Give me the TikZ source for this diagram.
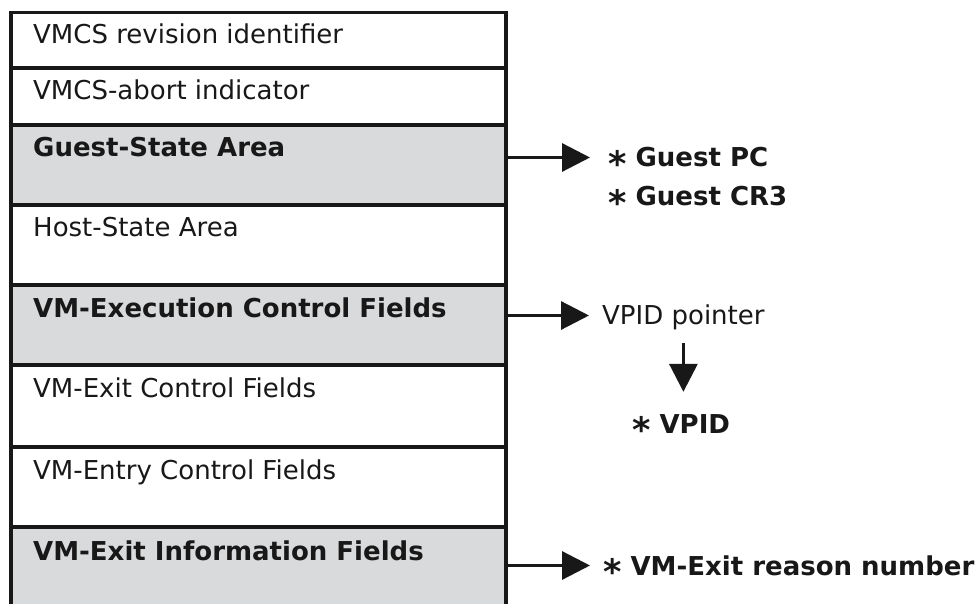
\documentclass[tikz,border=0pt]{standalone}
\usepackage{graphicx}
\usepackage{fontspec}
\setmainfont{DejaVu Sans}
\usetikzlibrary{arrows.meta}

\definecolor{fieldgray}{RGB}{217,218,220}
\definecolor{ink}{RGB}{24,24,24}

% enlarged asterisk set at the middle of the capitals
\newcommand{\lowstar}{\raisebox{-0.36em}{\scalebox{1.35}{*}}}

\tikzset{
  rowbox/.style={rectangle, draw=ink, line width=3.5pt, inner sep=0pt, outer sep=0pt,
                 minimum width=495pt, anchor=north west},
  plainrow/.style={rowbox, fill=white},
  greyrow/.style={rowbox, fill=fieldgray},
  rowtext/.style={anchor=base west, inner sep=0pt, text=ink,
                  font=\fontsize{26}{30}\selectfont},
  rowbold/.style={rowtext, font=\fontsize{26}{30}\selectfont\bfseries},
  note/.style={anchor=base west, inner sep=0pt, text height=19pt, text depth=0pt,
               text=ink, font=\fontsize{26}{30}\selectfont},
  notebold/.style={note, font=\fontsize{26}{30}\selectfont\bfseries},
  pointer/.style={draw=ink, line width=3.2pt, -{Triangle[length=28pt,width=28pt]}},
}

\begin{document}
\begin{tikzpicture}[x=1pt, y=-1pt]
  \clip (0,0) rectangle (978,604);
  \fill[white] (0,0) rectangle (978,604);

  % VMCS layout, one box per region
  \node[plainrow, minimum height=55.5pt] (r1) at (11,12.5) {};
  \node[plainrow, minimum height=57pt]   (r2) at (11,68)   {};
  \node[greyrow,  minimum height=80pt]   (r3) at (11,125)  {};
  \node[plainrow, minimum height=80pt]   (r4) at (11,205)  {};
  \node[greyrow,  minimum height=80pt]   (r5) at (11,285)  {};
  \node[plainrow, minimum height=82pt]   (r6) at (11,365)  {};
  \node[plainrow, minimum height=80pt]   (r7) at (11,447)  {};
  \node[greyrow,  minimum height=100pt]  (r8) at (11,527)  {};

  % region names
  \node[rowtext] (t1) at ([xshift=22pt,yshift=-31pt]r1.north west) {VMCS revision identifier};
  \node[rowtext] (t2) at ([xshift=22pt,yshift=-32pt]r2.north west) {VMCS-abort indicator};
  \node[rowbold] (t3) at ([xshift=22pt,yshift=-32pt]r3.north west) {Guest-State Area};
  \node[rowtext] (t4) at ([xshift=22pt,yshift=-32pt]r4.north west) {Host-State Area};
  \node[rowbold] (t5) at ([xshift=22pt,yshift=-32pt]r5.north west) {VM-Execution Control Fields};
  \node[rowtext] (t6) at ([xshift=22pt,yshift=-32pt]r6.north west) {VM-Exit Control Fields};
  \node[rowtext] (t7) at ([xshift=22pt,yshift=-32pt]r7.north west) {VM-Entry Control Fields};
  \node[rowbold] (t8) at ([xshift=22pt,yshift=-33pt]r8.north west) {VM-Exit Information Fields};

  % fields of interest
  \node[notebold] (gpc)  at (608,167) {\lowstar\ Guest PC};
  \node[notebold] (gcr)  at (608,206) {\lowstar\ Guest CR3};
  \node[note]     (vptr) at (602,325) {VPID pointer};
  \node[notebold] (vpid) at (632,433) {\lowstar\ VPID};
  \node[notebold] (vmer) at (603,575) {\lowstar\ VM-Exit reason number};

  % pointers
  \draw[pointer] (r3.east |- gpc.west)  -- ([xshift=-18pt]gpc.west);
  \draw[pointer] (r5.east |- vptr.west) -- ([xshift=-13pt]vptr.west);
  \draw[pointer] ([yshift=-18pt]vptr.south) -- ([yshift=22pt]vptr.south |- vpid.north);
  \draw[pointer] (r8.east |- vmer.west) -- ([xshift=-13pt]vmer.west);
\end{tikzpicture}
\end{document}
